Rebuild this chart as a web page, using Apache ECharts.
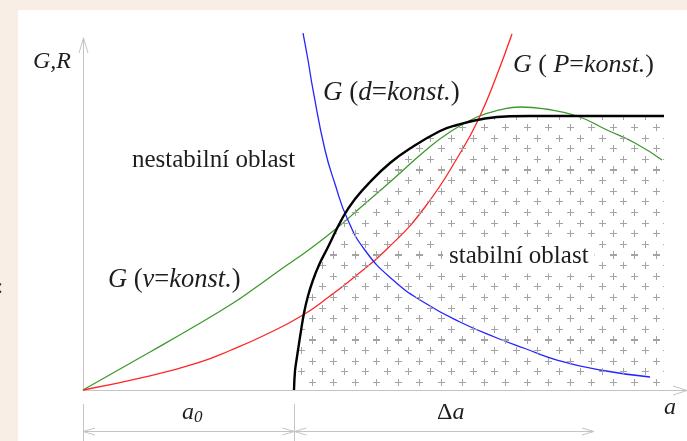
<!DOCTYPE html>
<html>
<head>
<meta charset="utf-8">
<script src="https://cdn.jsdelivr.net/npm/echarts@6/dist/echarts.min.js"></script>
<style>
  html, body { margin: 0; padding: 0; background: #ffffff; }
  #chart { width: 687px; height: 441px; }
</style>
</head>
<body>
<div id="chart"></div>
<script>
// Axis extents (arbitrary units of crack length a and G/R)
const xMax = 120;
const yMax = 100;
// Initial crack length a0 and the end of the stable growth range (a0 + Δa)
const a0 = 42;
const aStableEnd = 101.5;

// Resistance curve R(a): starts vertically at a0, saturates to a plateau
const curveR = [
  [41.92, 0], [42.12, 5.40], [42.42, 8.52], [42.72, 11.36], [43.21, 15.91],
  [43.91, 21.88], [44.70, 26.70], [45.70, 31.25], [46.89, 35.51], [48.48, 40.06],
  [51.66, 49.15], [54.04, 54.26], [57.02, 59.09], [61.00, 64.49], [64.97, 68.61],
  [70.93, 73.58], [74.30, 75.28], [79.87, 77.13], [84.83, 77.78], [88.81, 77.84],
  [115.43, 77.84]
];
// G at constant velocity
const curveGv = [
  [0, 0], [7.35, 5.97], [13.31, 10.80], [21.26, 17.33], [29.21, 24.15],
  [34.17, 28.98], [39.14, 34.09], [45.10, 40.06], [50.46, 46.02], [55.03, 51.70],
  [60.99, 59.09], [68.15, 68.18], [72.91, 73.30], [78.28, 77.56], [82.85, 79.55],
  [86.82, 80.40], [91.79, 79.83], [98.15, 77.84], [104.11, 73.86], [109.67, 70.17],
  [115.03, 65.34]
];
// G at constant load
const curveGP = [
  [0, 0], [13.31, 3.98], [23.25, 7.95], [29.21, 11.22], [36.16, 15.63],
  [43.71, 21.31], [49.07, 26.70], [53.44, 31.53], [60.40, 40.06], [67.95, 51.99],
  [75.30, 68.18], [78.68, 77.27], [81.85, 88.07], [85.23, 101.14]
];
// G at constant displacement
const curveGd = [
  [43.71, 101.42], [44.70, 93.75], [45.70, 85.23], [48.08, 68.18], [50.07, 58.52],
  [52.45, 48.86], [55.99, 39.77], [61.59, 31.25], [67.95, 24.72], [74.90, 19.32],
  [82.25, 14.77], [87.81, 11.79], [94.17, 8.52], [102.72, 5.68], [112.65, 3.69]
];

// Text labels
const labelAxisY = 'G,R';
const labelAxisX = 'a';
const labelUnstable = 'nestabilní oblast';
const labelStable = 'stabilní oblast';
const labelGd = '{i|G} ({i|d}={i|konst.})';
const labelGP = '{i|G} ( {i|P}={i|konst.})';
const labelGv = '{i|G} ({i|v}={i|konst.})';

const FONT = '"Liberation Serif", "Times New Roman", serif';
const TXT = '#1e1e1e';
const AXIS = '#c4c4c4';

// "+" hatch tile for the stable region
function makeHatch() {
  const W = 43, H = 85, hx = 10.75, hy = 10.64, x0 = 10.7, y0 = 42;
  const c = document.createElement('canvas');
  c.width = W; c.height = H;
  const ctx = c.getContext('2d');
  ctx.strokeStyle = '#a4a4a4';
  ctx.lineWidth = 1;
  for (let m = -1; m <= 4; m++) {
    for (let n = -5; n <= 8; n++) {
      if (((m + n) % 2 + 2) % 2 !== 0) continue;
      const cx = Math.round(x0 + hx * m) + 0.5;
      const cy = Math.round(y0 + hy * n) + 0.5;
      for (const dx of [-W, 0, W]) {
        for (const dy of [-H, 0, H]) {
          ctx.beginPath();
          ctx.moveTo(cx + dx - 3.5, cy + dy); ctx.lineTo(cx + dx + 3.5, cy + dy);
          ctx.moveTo(cx + dx, cy + dy - 3.5); ctx.lineTo(cx + dx, cy + dy + 3.5);
          ctx.stroke();
        }
      }
    }
  }
  return c;
}

const chart = echarts.init(document.getElementById('chart'), null, { renderer: 'canvas' });

function richFor(size) {
  return { i: { fontStyle: 'italic', fontSize: size, fontFamily: FONT, fill: TXT } };
}

chart.setOption({
  backgroundColor: '#ffffff',
  animation: false,
  grid: { left: 83, right: 0, top: 38, bottom: 51 },
  xAxis: {
    type: 'value', min: 0, max: xMax,
    axisLine: { show: true, onZero: false, lineStyle: { color: AXIS, width: 1 } },
    axisTick: { show: false }, axisLabel: { show: false }, splitLine: { show: false }
  },
  yAxis: {
    type: 'value', min: 0, max: yMax,
    axisLine: { show: true, onZero: false, lineStyle: { color: AXIS, width: 1 } },
    axisTick: { show: false }, axisLabel: { show: false }, splitLine: { show: false }
  },
  series: [
    {
      name: 'R', type: 'line', data: curveR, smooth: 0.45, showSymbol: false,
      lineStyle: { color: '#000000', width: 2.4 },
      areaStyle: { color: { image: makeHatch(), repeat: 'repeat' }, opacity: 1 },
      z: 5
    },
    {
      name: 'G v', type: 'line', data: curveGv, smooth: 0.5, showSymbol: false,
      lineStyle: { color: '#3c9a2c', width: 1.3 }, z: 4
    },
    {
      name: 'G P', type: 'line', data: curveGP, smooth: 0.5, showSymbol: false, clip: false,
      lineStyle: { color: '#ff2424', width: 1.3 }, z: 4
    },
    {
      name: 'G d', type: 'line', data: curveGd, smooth: 0.5, showSymbol: false, clip: false,
      lineStyle: { color: '#2424ff', width: 1.3 }, z: 4
    }
  ]
});

const px = (x, y) => chart.convertToPixel({ gridIndex: 0 }, [x, y]);
const o = px(0, 0);
const xe = px(xMax, 0);
const yt = px(0, yMax);
const pa0 = px(a0, 0)[0];
const pEnd = px(aStableEnd, 0)[0];
const dimY = o[1] + 41.5;

function chevron(tip, dir, len, half) {
  let pts;
  if (dir === 'r') pts = [[tip[0] - len, tip[1] - half], tip, [tip[0] - len, tip[1] + half]];
  else if (dir === 'l') pts = [[tip[0] + len, tip[1] - half], tip, [tip[0] + len, tip[1] + half]];
  else pts = [[tip[0] - half, tip[1] + len], tip, [tip[0] + half, tip[1] + len]];
  return { type: 'polyline', z: 50, shape: { points: pts }, style: { stroke: AXIS, lineWidth: 1, fill: null } };
}

function line(x1, y1, x2, y2) {
  return { type: 'line', z: 50, shape: { x1, y1, x2, y2 }, style: { stroke: AXIS, lineWidth: 1 } };
}

function text(x, y, str, size, opts) {
  return {
    type: 'text', z: 100,
    style: Object.assign({
      x, y, text: str, fontSize: size, fontFamily: FONT, fill: TXT,
      textAlign: 'left', textVerticalAlign: 'middle', rich: richFor(size)
    }, opts || {})
  };
}

chart.setOption({
  graphic: [
    // page frame
    { type: 'rect', z: 200, shape: { x: 0, y: 0, width: 687, height: 10 }, style: { fill: '#f8eee5' } },
    { type: 'rect', z: 200, shape: { x: 0, y: 0, width: 18, height: 441 }, style: { fill: '#f8eee5' } },
    { type: 'text', z: 210, style: { x: -3, y: 287, text: ':', fontSize: 22, fontFamily: FONT, fill: '#333', textVerticalAlign: 'middle' } },

    // axis arrowheads
    chevron([xe[0], o[1] + 0.5], 'r', 14, 4.5),
    chevron([o[0] + 0.5, yt[1]], 'u', 15, 4.5),

    // dimension line a0 / Δa
    line(o[0] + 0.5, o[1] + 14, o[0] + 0.5, 441),
    line(Math.round(pa0) + 0.5, o[1] + 14, Math.round(pa0) + 0.5, 441),
    line(o[0], dimY, pEnd, dimY),
    chevron([o[0], dimY], 'l', 12, 3.5),
    chevron([pa0, dimY], 'r', 12, 3.5),
    chevron([pa0, dimY], 'l', 12, 3.5),
    chevron([pEnd, dimY], 'r', 12, 3.5),

    // texts
    text(33, 62, '{i|' + labelAxisY + '}', 24),
    text(664, 408, '{i|' + labelAxisX + '}', 24),
    text(182, 413, '{i|a}', 24),
    text(194, 418, '0', 17, { fontStyle: 'italic' }),
    text(437, 413, 'Δ{i|a}', 24),
    text(132, 160, labelUnstable, 25),
    text(323, 93, labelGd, 27),
    text(513, 65, labelGP, 26),
    text(108, 280, labelGv, 26.5),
    text(443, 256, labelStable, 25, { backgroundColor: '#ffffff', padding: [5, 6, 5, 6] })
  ]
});
</script>
</body>
</html>
